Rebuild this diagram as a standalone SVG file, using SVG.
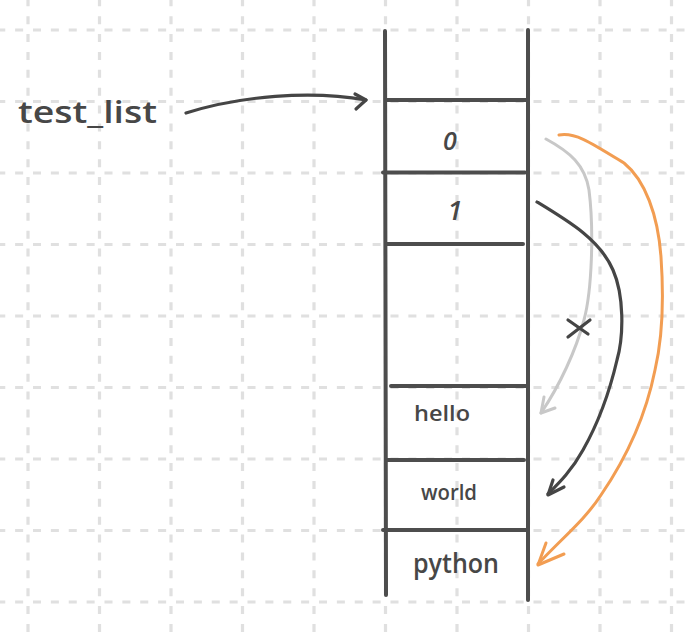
<svg xmlns="http://www.w3.org/2000/svg" width="688" height="636" viewBox="0 0 688 636">
<defs>
<style>
.grid line{stroke:#e0e0e0;stroke-width:3.2;stroke-dasharray:8 9.875}
.wall{stroke:#4d4d4d;stroke-width:4;stroke-linecap:round;fill:none}
.txt{font-family:"Open Sans","Liberation Sans",sans-serif;font-weight:600;fill:#474747}
.conn{fill:none;stroke-linecap:round;stroke-linejoin:round}
.dark{stroke:#454545;stroke-width:3.2}
.gray{stroke:#c8c8c8;stroke-width:3}
.orange{stroke:#f29d52;stroke-width:3}
</style>
</defs>
<rect width="688" height="636" fill="#ffffff"/>
<g class="grid">
<line x1="-2.75" y1="30" x2="688" y2="30"/>
<line x1="-2.75" y1="101.5" x2="688" y2="101.5"/>
<line x1="-2.75" y1="173" x2="688" y2="173"/>
<line x1="-2.75" y1="244.5" x2="688" y2="244.5"/>
<line x1="-2.75" y1="316" x2="688" y2="316"/>
<line x1="-2.75" y1="387.5" x2="688" y2="387.5"/>
<line x1="-2.75" y1="459" x2="688" y2="459"/>
<line x1="-2.75" y1="530.5" x2="688" y2="530.5"/>
<line x1="-2.75" y1="602" x2="688" y2="602"/>
<line x1="28" y1="-1.75" x2="28" y2="636"/>
<line x1="99.5" y1="-1.75" x2="99.5" y2="636"/>
<line x1="171" y1="-1.75" x2="171" y2="636"/>
<line x1="242.5" y1="-1.75" x2="242.5" y2="636"/>
<line x1="314" y1="-1.75" x2="314" y2="636"/>
<line x1="385.5" y1="-1.75" x2="385.5" y2="636"/>
<line x1="457" y1="-1.75" x2="457" y2="636"/>
<line x1="528.5" y1="-1.75" x2="528.5" y2="636"/>
<line x1="600" y1="-1.75" x2="600" y2="636"/>
<line x1="671.5" y1="-1.75" x2="671.5" y2="636"/>
</g>
<g id="test_list">
<text class="txt" x="18" y="123" font-size="31" textLength="139" lengthAdjust="spacingAndGlyphs">test_list</text>
</g>
<g id="list">
<path class="wall" d="M385,31 L386,595"/>
<path class="wall" d="M528,30 L528,600"/>
</g>
<g id="cell0">
<path class="wall" d="M386,100 L527,100"/>
<text class="txt" x="450" y="150" font-size="25" font-style="italic" text-anchor="middle">0</text>
</g>
<g id="cell1">
<path class="wall" d="M383,172.5 L525,172.5"/>
<text class="txt" x="455" y="220" font-size="27" font-style="italic" text-anchor="middle">1</text>
</g>
<g id="cell2">
<path class="wall" d="M386,244 L523,244"/>
</g>
<g id="cell_hello">
<path class="wall" d="M391,386 L527,386"/>
<text class="txt" x="414" y="421" font-size="21" textLength="56" lengthAdjust="spacingAndGlyphs">hello</text>
</g>
<g id="cell_world">
<path class="wall" d="M386,460 L524,460"/>
<text class="txt" x="421" y="500" font-size="22" textLength="56" lengthAdjust="spacingAndGlyphs">world</text>
</g>
<g id="cell_python">
<path class="wall" d="M383,530 L527,530"/>
<text class="txt" x="413" y="573" font-size="27" textLength="86" lengthAdjust="spacingAndGlyphs">python</text>
</g>
<g id="connectors">
<path class="conn dark" d="M186,113 C240,96 310,90 366,100"/>
<path class="conn dark" d="M355,94 L366,100 L356,109"/>
<path class="conn gray" d="M546,139 C570,152 585,165 589,190 C594,230 592,290 584,320 C576,350 560,385 541,413"/>
<path class="conn gray" d="M544,397 L541,413 L555,408"/>
<path class="conn dark" d="M568,337 L590,320 M568,320 L588,334"/>
<path class="conn dark" d="M537,202 C570,222 600,240 613,270 C624,295 624,335 617,360 C610,390 600,420 583,450 C572,470 560,482 548,494"/>
<path class="conn dark" d="M553,480 L548,495 L564,487"/>
<path class="conn orange" d="M559,135 C575,132 590,142 624,163 C645,180 658,215 661,257 C664,300 662,340 655,370 C645,420 625,460 601,495 C585,520 560,540 538,564"/>
<path class="conn orange" d="M546,543 L538,565 L564,554"/>
</g>
</svg>
